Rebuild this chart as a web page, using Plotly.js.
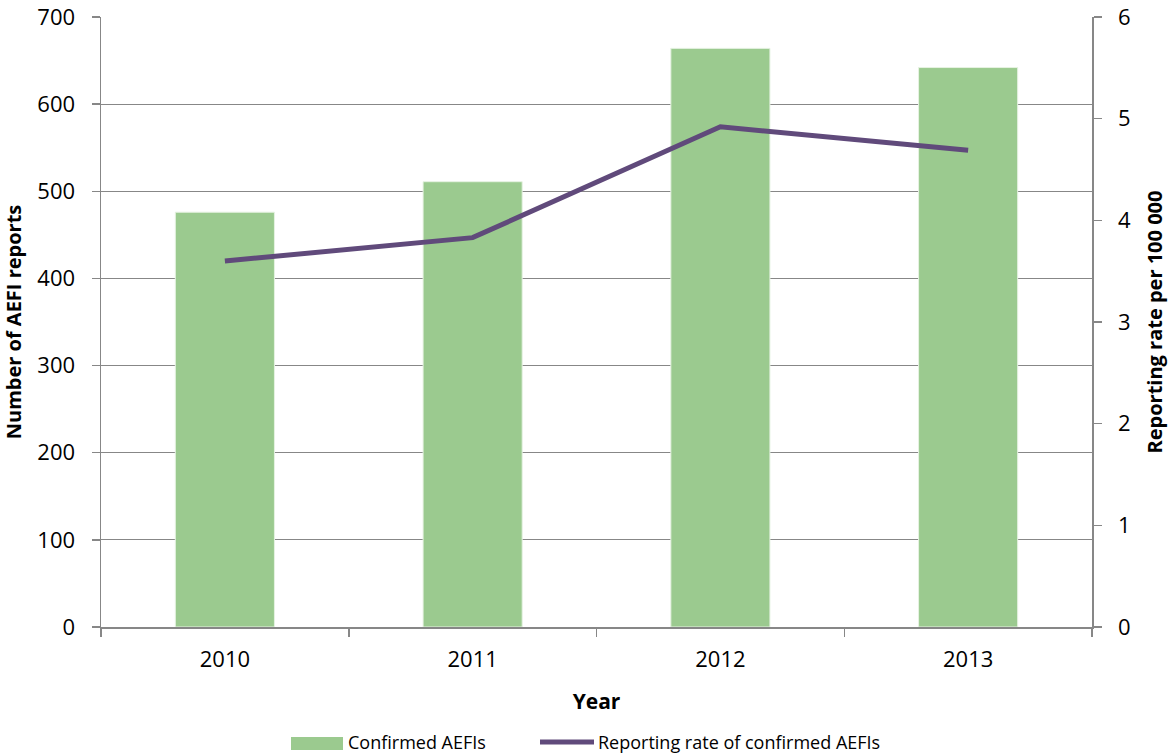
<!DOCTYPE html>
<html>
<head>
<meta charset="utf-8">
<script src="https://cdn.plot.ly/plotly-3.0.1.min.js"></script>
<style>html,body{margin:0;padding:0;background:#fff;}#chart{width:1168px;height:755px;}</style>
</head>
<body>
<div id="chart"></div>
<script>
const years = ['2010', '2011', '2012', '2013'];
const confirmedAEFIs = [476, 511, 664, 642];
const reportingRate = [3.60, 3.83, 4.92, 4.69];
const barName = 'Confirmed AEFIs';
const lineName = 'Reporting rate of confirmed AEFIs';

const FONT = '"Open Sans", "Liberation Sans", sans-serif';
const GRID = '#878787';
const BAR_COLOR = '#9BCA8F';
const LINE_COLOR = '#604A7B';

const W = 1168, H = 755;
const M = {l: 101, r: 76, t: 17, b: 128};
const PW = W - M.l - M.r, PH = H - M.t - M.b;
// helpers converting figure pixels to paper coordinates (for the hand-drawn legend)
const px = v => (v - M.l) / PW;
const py = v => (H - M.b - v) / PH;

const traces = [
  {
    type: 'bar', x: years, y: confirmedAEFIs, name: barName,
    marker: {color: BAR_COLOR, line: {color: '#E6F2E2', width: 1}},
    yaxis: 'y'
  },
  {
    type: 'scatter', mode: 'lines', x: years, y: reportingRate, name: lineName,
    line: {color: LINE_COLOR, width: 5},
    yaxis: 'y2'
  }
];

const layout = {
  width: W, height: H,
  margin: M,
  paper_bgcolor: '#ffffff', plot_bgcolor: '#ffffff',
  font: {family: FONT, color: '#000000', size: 22},
  bargap: 0.6,
  showlegend: false,
  xaxis: {
    type: 'category', tickson: 'boundaries', ticks: 'outside', ticklen: 8, tickwidth: 1.5,
    tickcolor: GRID, showline: true, linecolor: GRID, linewidth: 1.5, showgrid: false,
    tickfont: {family: FONT, size: 22}, ticklabelstandoff: 12,
    title: {text: 'Year', font: {family: FONT, size: 21, weight: 'bold'}, standoff: 22}
  },
  yaxis: {
    range: [0, 700], dtick: 100, tick0: 0, ticks: 'outside', ticklen: 8, tickwidth: 1.5,
    tickcolor: GRID, showline: true, linecolor: GRID, linewidth: 1.5,
    showgrid: true, gridcolor: GRID, gridwidth: 1.2, zeroline: false,
    tickfont: {family: FONT, size: 22}, ticklabelstandoff: 12,
    title: {text: 'Number of AEFI reports', font: {family: FONT, size: 20, weight: 'bold'}, standoff: 17}
  },
  yaxis2: {
    overlaying: 'y', side: 'right', range: [0, 6], dtick: 1, tick0: 0,
    ticks: 'outside', ticklen: 8, tickwidth: 1.5, tickcolor: GRID,
    showline: true, linecolor: GRID, linewidth: 1.5, showgrid: false, zeroline: false,
    tickfont: {family: FONT, size: 22}, ticklabelstandoff: 12,
    title: {text: 'Reporting rate per 100 000', font: {family: FONT, size: 20, weight: 'bold'}, standoff: 20}
  },
  shapes: [
    {type: 'rect', xref: 'paper', yref: 'paper', x0: px(291), x1: px(343), y0: py(750), y1: py(737),
     fillcolor: BAR_COLOR, line: {width: 0}},
    {type: 'line', xref: 'paper', yref: 'paper', x0: px(540), x1: px(594), y0: py(742), y1: py(742),
     line: {color: LINE_COLOR, width: 5}}
  ],
  annotations: [
    {xref: 'paper', yref: 'paper', x: px(346), y: py(742), xanchor: 'left', yanchor: 'middle',
     text: barName, showarrow: false, font: {family: FONT, size: 18, color: '#000'}},
    {xref: 'paper', yref: 'paper', x: px(596), y: py(742), xanchor: 'left', yanchor: 'middle',
     text: lineName, showarrow: false, font: {family: FONT, size: 18, color: '#000'}}
  ]
};

Plotly.newPlot('chart', traces, layout, {displayModeBar: false, staticPlot: true});
</script>
</body>
</html>
